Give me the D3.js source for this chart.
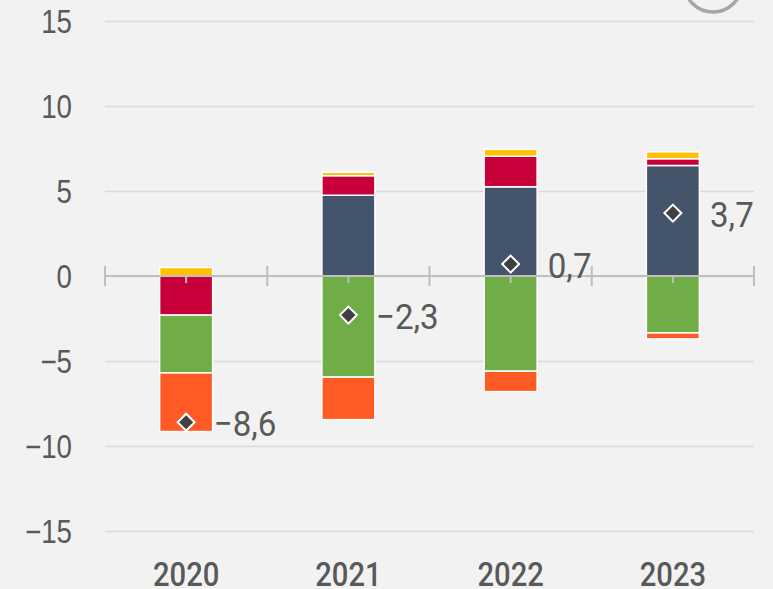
<!DOCTYPE html>
<html>
<head>
<meta charset="utf-8">
<script src="https://cdn.jsdelivr.net/npm/d3@7"></script>
<style>
  html, body { margin: 0; padding: 0; background: #f2f2f2; }
  svg { display: block; font-family: Roboto, "Liberation Sans", sans-serif; }
</style>
</head>
<body>
<svg id="chart" width="773" height="589"></svg>
<script>
const years = ["2020", "2021", "2022", "2023"];
const navy = [0, 4.75, 5.25, 6.5];
const red = [-2.3, 1.15, 1.8, 0.4];
const yellow = [0.5, 0.2, 0.4, 0.4];
const green = [-3.4, -5.95, -5.6, -3.35];
const orange = [-3.45, -2.5, -1.2, -0.35];
const totals = [-8.6, -2.3, 0.7, 3.7];
const yTicks = [-15, -10, -5, 0, 5, 10, 15];

const keys = ["navy", "red", "yellow", "green", "orange"];
const colors = {
  navy: "#44546a",
  red: "#c8003a",
  yellow: "#ffc000",
  green: "#70ad47",
  orange: "#ff5a24"
};
const series = { navy, red, yellow, green, orange };

const rows = years.map((y, i) => {
  const r = { year: y, total: totals[i] };
  keys.forEach((k) => (r[k] = series[k][i]));
  return r;
});

const svg = d3.select("#chart");
const width = 773;
const height = 589;
const margin = { top: 21, right: 19, bottom: 58, left: 105 };
const squeeze = 0.84; // narrow DIN-like digits

const x = d3
  .scaleBand()
  .domain(years)
  .range([margin.left, width - margin.right]);

const y = d3
  .scaleLinear()
  .domain([-15, 15])
  .range([height - margin.bottom, margin.top]);

const barW = 53;
const fmt = (v) => d3.format(".1f")(v).replace(".", ",").replace("-", "\u2212");

// decorative circle, top right
svg
  .append("circle")
  .attr("cx", 713)
  .attr("cy", -17)
  .attr("r", 29)
  .attr("fill", "none")
  .attr("stroke", "#a6a6a6")
  .attr("stroke-width", 3.5);

// grid + y labels
const yAxis = (g) =>
  g
    .attr("transform", `translate(${margin.left},0)`)
    .call(
      d3
        .axisLeft(y)
        .tickValues(yTicks)
        .tickSize(-(width - margin.left - margin.right))
        .tickFormat((d) => (d < 0 ? "\u2212" + Math.abs(d) : d))
    )
    .call((g) => g.select(".domain").remove())
    .call((g) =>
      g.selectAll(".tick line").attr("stroke", "#d9d9d9").attr("stroke-width", 1.5)
    )
    .call((g) =>
      g
        .selectAll(".tick text")
        .attr("x", -(margin.left - 72) / squeeze)
        .attr("dy", "0.36em")
        .attr("transform", `scale(${squeeze},1)`)
        .attr("fill", "#595959")
        .attr("font-size", 33)
        .attr("font-weight", 500)
    );

svg.append("g").call(yAxis);

// stacked bars
const stack = d3.stack().keys(keys).offset(d3.stackOffsetDiverging);
const stacked = stack(rows);

svg
  .append("g")
  .selectAll("g")
  .data(stacked)
  .join("g")
  .attr("fill", (d) => colors[d.key])
  .selectAll("rect")
  .data((d) => d.filter((p) => p[1] - p[0] !== 0))
  .join("rect")
  .attr("x", (d) => x(d.data.year) + x.bandwidth() / 2 - barW / 2)
  .attr("width", barW)
  .attr("y", (d) => y(Math.max(d[0], d[1])))
  .attr("height", (d) => Math.abs(y(d[0]) - y(d[1])))
  .attr("stroke", "#ffffff")
  .attr("stroke-width", 1.5);

// zero line with ticks
const zero = svg.append("g").attr("transform", `translate(0,${y(0)})`);
zero
  .append("line")
  .attr("x1", margin.left)
  .attr("x2", width - margin.right)
  .attr("stroke", "#bfbfbf")
  .attr("stroke-width", 2);

const bounds = d3.range(years.length + 1).map((i) => margin.left + i * x.step());
zero
  .selectAll(".bound")
  .data(bounds)
  .join("line")
  .attr("class", "bound")
  .attr("x1", (d) => d)
  .attr("x2", (d) => d)
  .attr("y1", -10)
  .attr("y2", 10)
  .attr("stroke", "#bfbfbf")
  .attr("stroke-width", 2);

zero
  .selectAll(".mid")
  .data(years)
  .join("line")
  .attr("class", "mid")
  .attr("x1", (d) => x(d) + x.bandwidth() / 2)
  .attr("x2", (d) => x(d) + x.bandwidth() / 2)
  .attr("y1", 0)
  .attr("y2", 7)
  .attr("stroke", "#bfbfbf")
  .attr("stroke-width", 2);

// x labels at bottom
svg
  .append("g")
  .selectAll("text")
  .data(years)
  .join("text")
  .attr("transform", (d) => `translate(${x(d) + x.bandwidth() / 2},586) scale(0.86,1)`)
  .attr("text-anchor", "middle")
  .attr("fill", "#595959")
  .attr("font-size", 34)
  .attr("font-weight", 500)
  .text((d) => d);

// totals: diamonds + labels
const diamond = d3.symbol(d3.symbolSquare, 144);
svg
  .append("g")
  .selectAll("path")
  .data(rows)
  .join("path")
  .attr("d", diamond)
  .attr(
    "transform",
    (d) => `translate(${x(d.year) + x.bandwidth() / 2},${y(d.total)}) rotate(45)`
  )
  .attr("fill", "#404040")
  .attr("stroke", "#ffffff")
  .attr("stroke-width", 2);

svg
  .append("g")
  .selectAll("text")
  .data(rows)
  .join("text")
  .attr(
    "transform",
    (d) =>
      `translate(${x(d.year) + x.bandwidth() / 2 + 59},${y(d.total) + 14}) scale(0.92,1)`
  )
  .attr("text-anchor", "middle")
  .attr("fill", "#595959")
  .attr("font-size", 36)
  .text((d) => fmt(d.total));
</script>
</body>
</html>
